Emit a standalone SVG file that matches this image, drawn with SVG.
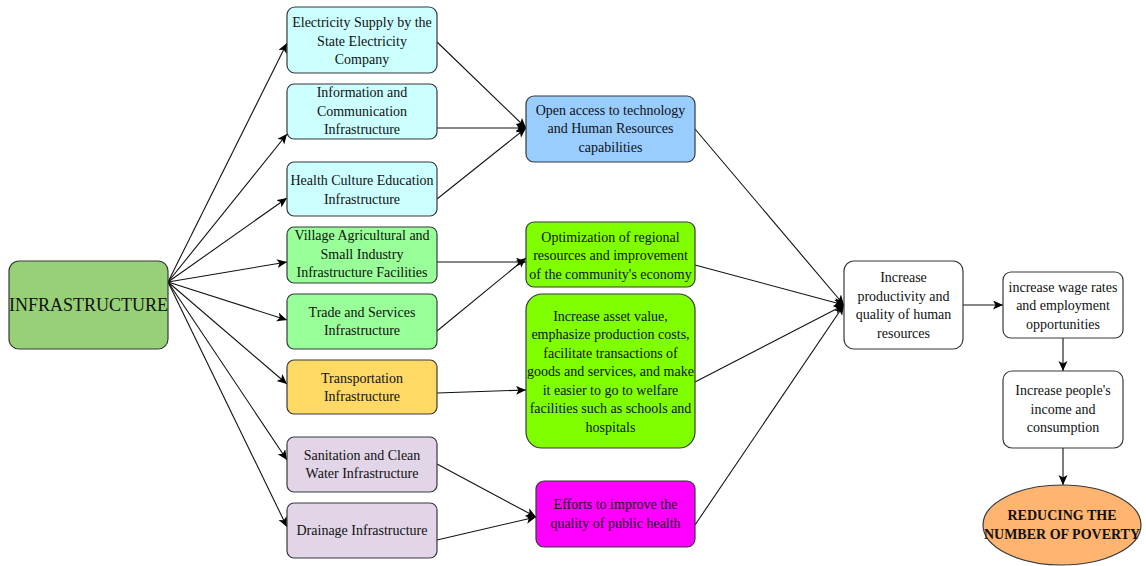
<svg xmlns="http://www.w3.org/2000/svg" width="1146" height="566" viewBox="0 0 1146 566">
<style>
.n{stroke:#36393d;stroke-width:1.2}
.t{font-family:"Liberation Serif","Times New Roman",serif;font-size:14px;fill:#111;text-anchor:middle}
.c{fill:none;stroke:#111;stroke-width:1.1}
</style>
<defs>
<marker id="ah" markerUnits="userSpaceOnUse" markerWidth="12" markerHeight="10" refX="10" refY="4.5" orient="auto" viewBox="0 0 12 10">
<path d="M0,0 L10,4.5 L0,9 L2.5,4.5 z" fill="#000"/>
</marker>
</defs>
<rect width="1146" height="566" fill="#fff"/>
<g id="connectors">
<line class="c" x1="168" y1="282" x2="287" y2="43" marker-end="url(#ah)"/>
<line class="c" x1="168" y1="282" x2="287" y2="134" marker-end="url(#ah)"/>
<line class="c" x1="168" y1="282" x2="287" y2="198" marker-end="url(#ah)"/>
<line class="c" x1="168" y1="282" x2="287" y2="262" marker-end="url(#ah)"/>
<line class="c" x1="168" y1="282" x2="287" y2="320" marker-end="url(#ah)"/>
<line class="c" x1="168" y1="282" x2="287" y2="384" marker-end="url(#ah)"/>
<line class="c" x1="168" y1="282" x2="287" y2="460" marker-end="url(#ah)"/>
<line class="c" x1="168" y1="282" x2="287" y2="527" marker-end="url(#ah)"/>
<line class="c" x1="437" y1="42" x2="526" y2="128" marker-end="url(#ah)"/>
<line class="c" x1="437" y1="128" x2="526" y2="128" marker-end="url(#ah)"/>
<line class="c" x1="437" y1="199" x2="526" y2="128" marker-end="url(#ah)"/>
<line class="c" x1="437" y1="262" x2="526" y2="262" marker-end="url(#ah)"/>
<line class="c" x1="437" y1="331" x2="526" y2="258" marker-end="url(#ah)"/>
<line class="c" x1="437" y1="393" x2="526" y2="390" marker-end="url(#ah)"/>
<line class="c" x1="437" y1="464" x2="536" y2="517" marker-end="url(#ah)"/>
<line class="c" x1="437" y1="540" x2="536" y2="517" marker-end="url(#ah)"/>
<line class="c" x1="695" y1="129" x2="844" y2="305" marker-end="url(#ah)"/>
<line class="c" x1="695" y1="265" x2="844" y2="305" marker-end="url(#ah)"/>
<line class="c" x1="695" y1="382" x2="844" y2="305" marker-end="url(#ah)"/>
<line class="c" x1="695" y1="525" x2="844" y2="305" marker-end="url(#ah)"/>
<line class="c" x1="963" y1="305" x2="1003" y2="305" marker-end="url(#ah)"/>
<line class="c" x1="1063" y1="338" x2="1063" y2="371" marker-end="url(#ah)"/>
<line class="c" x1="1063" y1="448" x2="1063" y2="485" marker-end="url(#ah)"/>
</g>
<g id="infrastructure">
<rect class="n" x="9" y="261" width="159" height="88" rx="10" fill="#97D077"/>
<text class="t" x="88.5" y="311" style="font-size:18px">INFRASTRUCTURE</text>
</g>
<g id="electricity">
<rect class="n" x="287" y="7" width="150" height="66" rx="8" fill="#CCFFFF"/>
<text class="t" x="362" y="27">Electricity Supply by the</text>
<text class="t" x="362" y="45.5">State Electricity</text>
<text class="t" x="362" y="64">Company</text>
</g>
<g id="ict">
<rect class="n" x="287" y="84" width="150" height="55" rx="7" fill="#CCFFFF"/>
<text class="t" x="362" y="97">Information and</text>
<text class="t" x="362" y="115.5">Communication</text>
<text class="t" x="362" y="134">Infrastructure</text>
</g>
<g id="health">
<rect class="n" x="287" y="162" width="150" height="54" rx="7" fill="#CCFFFF"/>
<text class="t" x="362" y="185">Health Culture Education</text>
<text class="t" x="362" y="203.5">Infrastructure</text>
</g>
<g id="village">
<rect class="n" x="287" y="227" width="150" height="56" rx="7" fill="#99FF99"/>
<text class="t" x="362" y="240">Village Agricultural and</text>
<text class="t" x="362" y="258.5">Small Industry</text>
<text class="t" x="362" y="277">Infrastructure Facilities</text>
</g>
<g id="trade">
<rect class="n" x="287" y="294" width="150" height="55" rx="7" fill="#99FF99"/>
<text class="t" x="362" y="316.5">Trade and Services</text>
<text class="t" x="362" y="335">Infrastructure</text>
</g>
<g id="transport">
<rect class="n" x="287" y="360" width="150" height="54" rx="7" fill="#FFD966"/>
<text class="t" x="362" y="382.5">Transportation</text>
<text class="t" x="362" y="401">Infrastructure</text>
</g>
<g id="sanitation">
<rect class="n" x="287" y="437" width="150" height="55" rx="7" fill="#E1D5E7"/>
<text class="t" x="362" y="459.5">Sanitation and Clean</text>
<text class="t" x="362" y="478">Water Infrastructure</text>
</g>
<g id="drainage">
<rect class="n" x="287" y="503" width="150" height="55" rx="7" fill="#E1D5E7"/>
<text class="t" x="362" y="535">Drainage Infrastructure</text>
</g>
<g id="open-access">
<rect class="n" x="526" y="96" width="169" height="66" rx="8" fill="#99CCFF"/>
<text class="t" x="610.5" y="114.5">Open access to technology</text>
<text class="t" x="610.5" y="133">and Human Resources</text>
<text class="t" x="610.5" y="151.5">capabilities</text>
</g>
<g id="optimization">
<rect class="n" x="526" y="222" width="169" height="65" rx="8" fill="#80FF00"/>
<text class="t" x="610.5" y="241.5">Optimization of regional</text>
<text class="t" x="610.5" y="260">resources and improvement</text>
<text class="t" x="610.5" y="278.5">of the community's economy</text>
</g>
<g id="asset-value">
<rect class="n" x="526" y="294" width="169" height="154" rx="16" fill="#80FF00"/>
<text class="t" x="610.5" y="320.5">Increase asset value,</text>
<text class="t" x="610.5" y="339">emphasize production costs,</text>
<text class="t" x="610.5" y="357.5">facilitate transactions of</text>
<text class="t" x="610.5" y="376">goods and services, and make</text>
<text class="t" x="610.5" y="394.5">it easier to go to welfare</text>
<text class="t" x="610.5" y="413">facilities such as schools and</text>
<text class="t" x="610.5" y="431.5">hospitals</text>
</g>
<g id="public-health">
<rect class="n" x="536" y="481" width="159" height="66" rx="8" fill="#FF00FF"/>
<text class="t" x="615.5" y="509">Efforts to improve the</text>
<text class="t" x="615.5" y="527.5">quality of public health</text>
</g>
<g id="productivity">
<rect class="n" x="844" y="261" width="119" height="88" rx="10" fill="#FFFFFF"/>
<text class="t" x="903.5" y="282">Increase</text>
<text class="t" x="903.5" y="300.5">productivity and</text>
<text class="t" x="903.5" y="319">quality of human</text>
<text class="t" x="903.5" y="337.5">resources</text>
</g>
<g id="wage">
<rect class="n" x="1003" y="272" width="120" height="66" rx="8" fill="#FFFFFF"/>
<text class="t" x="1063" y="291.5">increase wage rates</text>
<text class="t" x="1063" y="310">and employment</text>
<text class="t" x="1063" y="328.5">opportunities</text>
</g>
<g id="income">
<rect class="n" x="1003" y="371" width="120" height="77" rx="9" fill="#FFFFFF"/>
<text class="t" x="1063" y="395">Increase people's</text>
<text class="t" x="1063" y="413.5">income and</text>
<text class="t" x="1063" y="432">consumption</text>
</g>
<g id="poverty">
<ellipse class="n" cx="1062" cy="525" rx="79" ry="40" fill="#FFB570"/>
<text class="t" x="1062" y="520" style="font-weight:bold">REDUCING THE</text>
<text class="t" x="1062" y="538.5" style="font-weight:bold">NUMBER OF POVERTY</text>
</g>
</svg>
